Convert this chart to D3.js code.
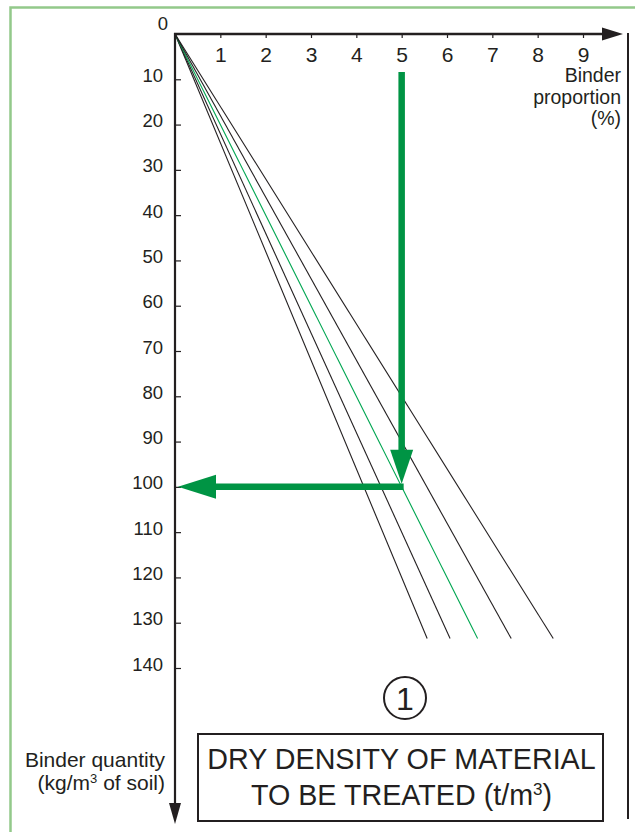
<!DOCTYPE html>
<html>
<head>
<meta charset="utf-8">
<script src="https://cdn.jsdelivr.net/npm/d3@7/dist/d3.min.js"></script>
<style>
  html, body { margin: 0; padding: 0; background: #fff; }
  svg { display: block; }
  text { font-family: "Liberation Sans", Arial, Helvetica, sans-serif; fill: #231f20; }
</style>
</head>
<body>
<svg id="chart" width="635" height="832"></svg>
<script>
// ---- data ----
const proportionTicks = [1, 2, 3, 4, 5, 6, 7, 8, 9];            // Binder proportion (%)
const quantityTicks = [10, 20, 30, 40, 50, 60, 70, 80, 90, 100, 110, 120, 130, 140]; // kg/m3
const densities = [2.4, 2.2, 2.0, 1.8, 1.6];                    // dry density (t/m3)
const highlightDensity = 2.0;
const lineEndQuantity = 133.5;                                  // lines stop here (kg/m3)
const exampleProportion = 5;                                    // worked example: 5 %
const exampleQuantity = 100;                                    // -> 100 kg/m3
const exampleStartQuantity = 8.4;                               // vertical arrow start

const INK = "#231f20";
const GREEN = "#009444";
const THIN_GREEN = "#00a651";
const FRAME = "#93c98a";
const FONT = "'Liberation Sans', Arial, Helvetica, sans-serif";

const svg = d3.select("#chart");

// scales
const x = d3.scaleLinear().domain([0, 9]).range([175, 583]);
const y = d3.scaleLinear().domain([0, 140]).range([34, 668]);

// frame (light green, top & left)
svg.append("path")
  .attr("d", `M10.5,832 L10.5,7.5 L635,7.5`)
  .attr("fill", "none").attr("stroke", FRAME).attr("stroke-width", 2.5);

// density lines
densities.forEach(d => {
  const pEnd = lineEndQuantity / (10 * d);
  svg.append("line")
    .attr("x1", x(0)).attr("y1", y(0))
    .attr("x2", x(pEnd)).attr("y2", y(lineEndQuantity))
    .attr("stroke", d === highlightDensity ? THIN_GREEN : INK)
    .attr("stroke-width", 1.1);
});

// x axis (top)
const xAxisG = svg.append("g").attr("transform", `translate(0,${y(0)})`)
  .call(d3.axisBottom(x).tickValues(proportionTicks).tickSize(4).tickFormat(d3.format("d")));
xAxisG.select(".domain").remove();
xAxisG.selectAll(".tick line").attr("stroke", INK).attr("stroke-width", 1.2);
xAxisG.selectAll(".tick text")
  .attr("y", 28).attr("dy", null)
  .style("font-size", "21px").attr("fill", INK)
  .style("font-family", FONT);

svg.append("line")
  .attr("x1", x(0) - 1).attr("y1", y(0)).attr("x2", 605).attr("y2", y(0))
  .attr("stroke", INK).attr("stroke-width", 2.5);
svg.append("path")
  .attr("d", `M602,${y(0) - 6.5} L623,${y(0)} L602,${y(0) + 6.5} Z`)
  .attr("fill", INK);

// y axis (left, pointing down)
const yAxisG = svg.append("g").attr("transform", `translate(${x(0)},0)`)
  .call(d3.axisLeft(y).tickValues(quantityTicks).tickSize(-6).tickPadding(12).tickFormat(d3.format("d")));
yAxisG.select(".domain").remove();
yAxisG.selectAll(".tick line").attr("stroke", INK).attr("stroke-width", 1.2);
yAxisG.selectAll(".tick text")
  .attr("dy", "2")
  .style("font-size", "18.5px").attr("fill", INK)
  .style("font-family", FONT);

svg.append("text")
  .attr("x", 168).attr("y", 30).attr("text-anchor", "end")
  .style("font-size", "18.5px").text("0");

svg.append("line")
  .attr("x1", x(0)).attr("y1", y(0) - 1).attr("x2", x(0)).attr("y2", 806)
  .attr("stroke", INK).attr("stroke-width", 2.2);
svg.append("path")
  .attr("d", `M${x(0) - 6},803 L${x(0)},824 L${x(0) + 6},803 Z`)
  .attr("fill", INK);

// right vertical rule
svg.append("line")
  .attr("x1", 628).attr("y1", 33).attr("x2", 628).attr("y2", 819)
  .attr("stroke", INK).attr("stroke-width", 2);

// axis titles
const propTitle = svg.append("text").attr("text-anchor", "end").style("font-size", "19.5px");
[["Binder", 82], ["proportion", 103.5], ["(%)", 125]].forEach(([t, yy]) => {
  propTitle.append("tspan").attr("x", 621).attr("y", yy).text(t);
});

const qTitle = svg.append("text").attr("text-anchor", "end").style("font-size", "21px");
qTitle.append("tspan").attr("x", 165).attr("y", 767).text("Binder quantity");
const l2 = qTitle.append("tspan").attr("x", 165).attr("y", 790);
l2.append("tspan").text("(kg/m");
l2.append("tspan").attr("dy", -7).style("font-size", "13px").text("3");
l2.append("tspan").attr("dy", 7).text(" of soil)");

// worked example arrows
const ex = x(exampleProportion), ey = y(exampleQuantity);
svg.append("line")
  .attr("x1", ex).attr("y1", y(exampleStartQuantity)).attr("x2", ex).attr("y2", ey - 36)
  .attr("stroke", GREEN).attr("stroke-width", 6.5);
svg.append("path")
  .attr("d", `M${ex - 11.5},${ey - 37} L${ex},${ey - 3} L${ex + 11.5},${ey - 37} Z`)
  .attr("fill", GREEN);
svg.append("line")
  .attr("x1", ex + 2).attr("y1", ey).attr("x2", x(0) + 38).attr("y2", ey)
  .attr("stroke", GREEN).attr("stroke-width", 6.5);
svg.append("path")
  .attr("d", `M${x(0) + 41},${ey - 12} L${x(0) + 3},${ey} L${x(0) + 41},${ey + 12} Z`)
  .attr("fill", GREEN);

// circled "1"
svg.append("circle").attr("cx", 405).attr("cy", 698).attr("r", 21)
  .attr("fill", "none").attr("stroke", INK).attr("stroke-width", 2);
svg.append("text").attr("x", 405).attr("y", 709.5).attr("text-anchor", "middle")
  .style("font-size", "32px").text("1");

// box
svg.append("rect").attr("x", 198).attr("y", 734).attr("width", 405).attr("height", 87)
  .attr("fill", "none").attr("stroke", INK).attr("stroke-width", 2);
const boxText = svg.append("text").attr("text-anchor", "middle").style("font-size", "28.7px");
boxText.append("tspan").attr("x", 401.5).attr("y", 769).text("DRY DENSITY OF MATERIAL");
const b2 = boxText.append("tspan").attr("x", 401.5).attr("y", 805);
b2.append("tspan").text("TO BE TREATED (t/m");
b2.append("tspan").attr("dy", -10).style("font-size", "17px").text("3");
b2.append("tspan").attr("dy", 10).text(")");
</script>
</body>
</html>
